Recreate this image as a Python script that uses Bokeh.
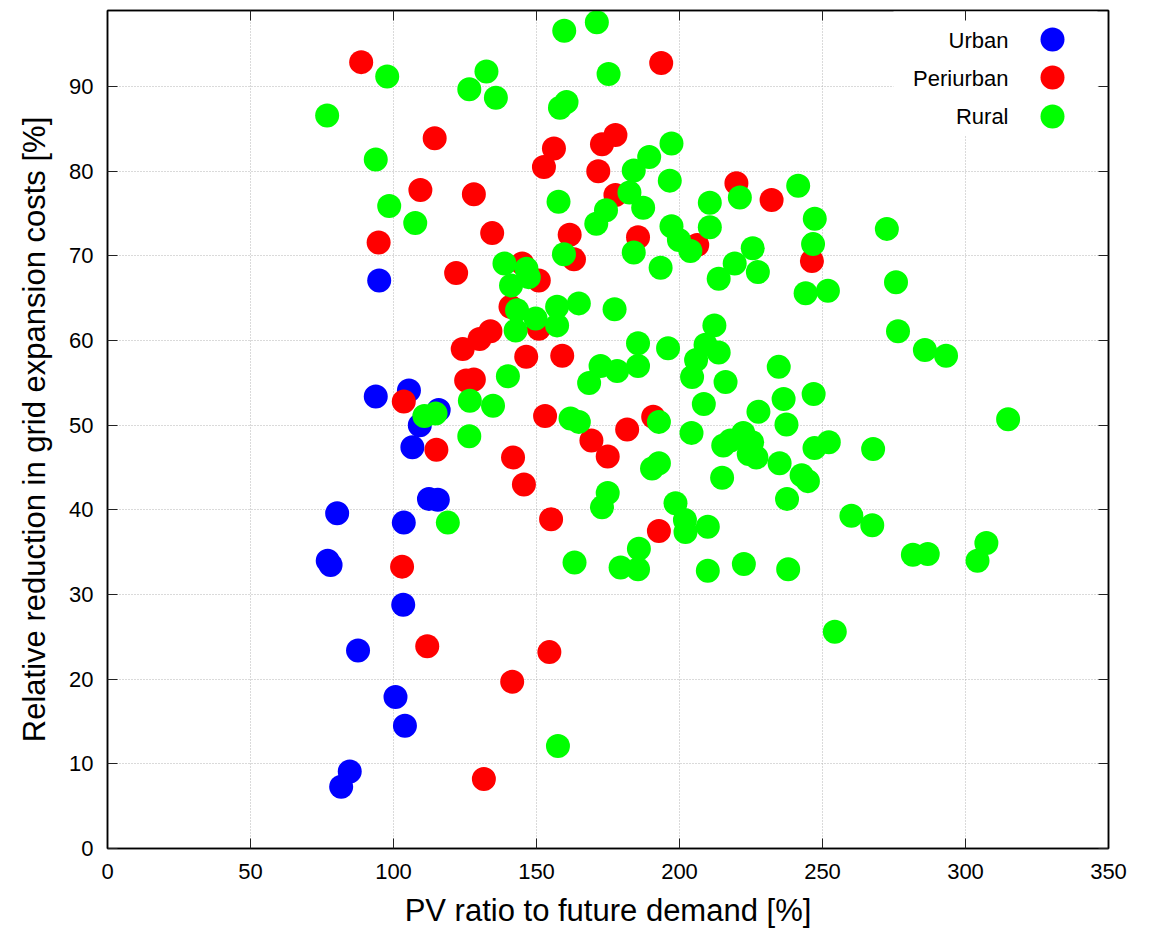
from bokeh.plotting import figure
from bokeh.models import (Range1d, FixedTicker, LinearAxis, Legend, LegendItem,
                          Label, BoxAnnotation, ColumnDataSource)
from bokeh.embed import file_html
from bokeh.resources import INLINE

# ---------------- data ----------------
urban_x = [95.0, 93.8, 105.4, 115.8, 109.2, 106.6, 112.4, 115.5, 80.3, 103.6,
           77.0, 78.0, 103.4, 87.6, 100.7, 104.0, 84.7, 81.7]
urban_y = [67.1, 53.4, 54.1, 51.8, 50.0, 47.4, 41.3, 41.2, 39.6, 38.5,
           34.0, 33.5, 28.8, 23.4, 17.9, 14.5, 9.1, 7.3]

peri_x = [88.7, 193.6, 114.4, 177.6, 172.9, 156.1, 152.6, 171.6, 109.4, 128.1,
          177.6, 219.9, 232.2, 94.8, 134.5, 161.6, 185.5, 206.2, 121.9, 163.1,
          145.0, 150.8, 246.3, 140.9, 133.9, 130.1, 124.2, 150.8, 146.4, 159.0,
          125.4, 128.1, 103.6, 153.0, 190.8, 181.7, 169.2, 174.9, 115.0, 141.8,
          145.6, 155.1, 192.8, 103.0, 111.8, 154.5, 141.5, 131.6]
peri_y = [92.9, 92.8, 83.9, 84.3, 83.2, 82.7, 80.5, 80.0, 77.8, 77.3,
          77.2, 78.6, 76.6, 71.6, 72.7, 72.5, 72.2, 71.3, 68.0, 69.6,
          69.1, 67.1, 69.4, 64.0, 61.1, 60.2, 59.0, 61.4, 58.1, 58.2,
          55.3, 55.4, 52.8, 51.1, 51.0, 49.5, 48.2, 46.3, 47.1, 46.2,
          43.0, 38.9, 37.5, 33.3, 23.9, 23.2, 19.7, 8.2]

rural_x = [97.8, 76.8, 93.8, 98.5, 107.6, 132.5, 126.5, 135.8, 159.7, 171.1,
           175.2, 160.5, 158.2, 197.2, 189.4, 184.0, 196.6, 182.5, 187.3, 157.7,
           174.3, 170.9, 197.2, 199.8, 203.8, 159.6, 184.0, 193.4, 138.8, 146.5,
           141.1, 147.3, 164.8, 157.2, 177.3, 143.2, 221.1, 241.5, 210.6, 210.6,
           247.3, 246.7, 272.5, 275.7, 225.6, 219.3, 227.4, 213.7, 244.1, 251.9,
           212.2, 276.4, 110.8, 114.7, 119.0, 142.7, 149.7, 157.2, 140.0, 126.7,
           134.8, 126.5, 161.9, 164.8, 192.8, 185.5, 196.0, 172.4, 178.2, 185.5,
           168.4, 204.2, 190.4, 192.8, 174.9, 172.9, 198.6, 201.9, 202.1, 209.9,
           163.3, 185.8, 179.4, 185.5, 209.9, 222.5, 238.0, 209.1, 213.7, 205.8,
           204.4, 216.1, 208.5, 214.9, 234.7, 236.4, 246.9, 227.6, 237.4, 222.3,
           217.8, 215.3, 225.4, 224.2, 226.9, 235.0, 247.2, 252.2, 267.7, 242.7,
           244.9, 237.6, 285.8, 293.2, 314.9, 260.1, 267.4, 281.6, 286.8, 307.3,
           304.2, 254.3, 157.5]
rural_y = [91.2, 86.6, 81.4, 75.9, 73.9, 91.8, 89.7, 88.7, 96.6, 97.6,
           91.5, 88.2, 87.5, 83.3, 81.7, 80.1, 78.9, 77.5, 75.7, 76.4,
           75.4, 73.8, 73.5, 71.9, 70.6, 70.2, 70.4, 68.6, 69.1, 68.5,
           66.5, 67.5, 64.4, 64.0, 63.7, 63.6, 76.9, 78.3, 76.3, 73.4,
           74.4, 71.4, 73.2, 66.9, 70.9, 69.1, 68.1, 67.3, 65.6, 65.9,
           61.8, 61.1, 51.1, 51.4, 38.5, 61.2, 62.6, 61.8, 55.8, 52.9,
           52.3, 48.7, 50.8, 50.4, 50.4, 59.7, 59.1, 57.0, 56.4, 57.0,
           55.0, 49.1, 44.9, 45.5, 42.0, 40.3, 40.8, 38.8, 37.4, 38.0,
           33.8, 35.4, 33.2, 33.0, 32.8, 33.6, 33.0, 59.5, 58.6, 57.7,
           55.7, 55.1, 52.5, 43.8, 56.9, 53.1, 53.7, 51.6, 50.1, 49.1,
           48.2, 47.6, 48.0, 46.6, 46.2, 45.5, 47.3, 48.0, 47.2, 44.1,
           43.4, 41.3, 58.9, 58.2, 50.7, 39.3, 38.2, 34.7, 34.8, 36.1,
           34.0, 25.6, 12.1]

series_names = ["Urban", "Periurban", "Rural"]
series_colors = ["#0000ff", "#ff0000", "#00ff00"]

x_ticks = [0, 50, 100, 150, 200, 250, 300, 350]
y_ticks = [0, 10, 20, 30, 40, 50, 60, 70, 80, 90]

FONT = "Liberation Sans"

# ---------------- figure ----------------
p = figure(width=1155, height=930,
           x_range=Range1d(0, 350), y_range=Range1d(0, 99),
           min_border_left=107, min_border_right=47,
           min_border_top=10, min_border_bottom=82,
           output_backend="svg", toolbar_location=None)
p.background_fill_color = "white"
p.border_fill_color = "white"
p.outline_line_color = "black"
p.outline_line_width = 1.5

def style_axis(ax, show_labels):
    ax.major_tick_in = 10
    ax.major_tick_out = 0
    ax.minor_tick_in = 0
    ax.minor_tick_out = 0
    ax.major_tick_line_color = "#222222"
    ax.major_tick_line_width = 1
    ax.axis_line_color = "black"
    ax.axis_line_width = 1.5
    ax.major_label_text_font = FONT
    if show_labels:
        ax.major_label_text_font_size = "22px"
        ax.major_label_text_color = "black"
    else:
        ax.major_label_text_font_size = "1px"
        ax.major_label_text_color = None
        ax.major_label_standoff = 0

xa = p.xaxis[0]
ya = p.yaxis[0]
xa.ticker = FixedTicker(ticks=x_ticks)
ya.ticker = FixedTicker(ticks=y_ticks)
style_axis(xa, True)
style_axis(ya, True)
xa.major_label_standoff = 15
ya.major_label_standoff = 14
xa.axis_label = "PV ratio to future demand [%]"
ya.axis_label = "Relative reduction in grid expansion costs [%]"
for ax in (xa, ya):
    ax.axis_label_text_font = FONT
    ax.axis_label_text_font_size = "31px"
    ax.axis_label_text_font_style = "normal"
    ax.axis_label_text_color = "black"
xa.axis_label_standoff = 11
ya.axis_label_standoff = 14

ra = LinearAxis(ticker=FixedTicker(ticks=y_ticks))
ta = LinearAxis(ticker=FixedTicker(ticks=x_ticks))
style_axis(ra, False)
style_axis(ta, False)
p.add_layout(ra, "right")
p.add_layout(ta, "above")

for g in (p.xgrid[0], p.ygrid[0]):
    g.grid_line_color = "#b4b4b4"
    g.grid_line_dash = "1 2"
    g.grid_line_width = 1
p.xgrid[0].ticker = FixedTicker(ticks=x_ticks)
p.ygrid[0].ticker = FixedTicker(ticks=y_ticks)

# white legend background (screen units, relative to the frame)
bg = BoxAnnotation(left=786, right=990, bottom=713, top=840,
                   left_units="screen", right_units="screen",
                   bottom_units="screen", top_units="screen",
                   fill_color="white", fill_alpha=1.0, line_color=None,
                   level="underlay", propagate_hover=False)
p.add_layout(bg)

# ---------------- points ----------------
renderers = []
for xs, ys, col in [(urban_x, urban_y, series_colors[0]),
                    (peri_x, peri_y, series_colors[1]),
                    (rural_x, rural_y, series_colors[2])]:
    src = ColumnDataSource(dict(x=xs, y=ys))
    r = p.scatter("x", "y", source=src, size=24, marker="circle",
                  fill_color=col, line_color=None)
    renderers.append(r)

# ---------------- legend (one glyph-only legend per series) ----------------
legend_bottoms = [779, 741, 702]
for r, yb in zip(renderers, legend_bottoms):
    lg = Legend(items=[LegendItem(label=" ", renderers=[r])],
                location=(915, yb), orientation="vertical",
                glyph_width=60, glyph_height=60, spacing=0,
                padding=0, margin=0, label_standoff=0, label_width=0,
                label_height=0, label_text_font_size="1px",
                label_text_color=None,
                background_fill_alpha=0, border_line_color=None)
    p.add_layout(lg)

for i, name in enumerate(series_names):
    lab = Label(x=901, y=[808, 770, 732][i], x_units="screen", y_units="screen",
                text=name, text_font=FONT, text_font_size="22px",
                text_align="right", text_baseline="alphabetic", text_color="black")
    p.add_layout(lab)

open("out.html", "w").write(file_html(p, INLINE))
